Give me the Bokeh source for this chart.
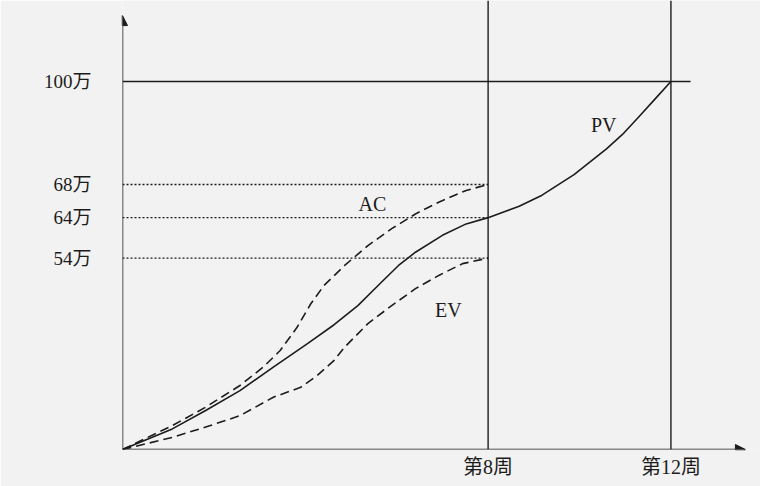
from bokeh.plotting import figure
from bokeh.models import FixedTicker, Arrow, NormalHead, Label
from bokeh.embed import file_html
from bokeh.resources import INLINE

# The original figure is schematic (not to scale): heights below are the drawn heights.
level_labels = ["54万", "64万", "68万", "100万"]
level_heights = [52, 63, 72, 100]
week_ticks = [8, 12]
week_labels = ["第8周", "第12周"]

pv_weeks = [0, 1.09, 1.82, 2.57, 3.30, 4.04, 4.63, 5.15, 5.67, 6.04, 6.41, 7.00, 7.52, 8,
            8.68, 9.18, 9.88, 10.59, 10.94, 11.30, 11.65, 12]
pv_vals = [0, 5.6, 10.6, 16.0, 22.4, 28.7, 33.9, 39.1, 45.5, 50.0, 53.6, 58.2, 61.3, 63,
           66.1, 69.1, 74.7, 81.7, 85.6, 90.4, 95.2, 100]

ac_weeks = [0, 1.09, 1.82, 2.57, 3.08, 3.45, 3.82, 4.12, 4.41, 4.86, 5.37, 5.89, 6.41, 6.92, 7.52, 8]
ac_vals = [0, 6.5, 11.5, 17.4, 22.4, 26.9, 33.2, 39.6, 44.6, 50.0, 55.4, 60.0, 64.0, 67.2, 70.4, 72]

ev_weeks = [0, 1.09, 1.82, 2.57, 3.30, 3.90, 4.26, 4.63, 4.86, 5.37, 5.89, 6.41, 6.92, 7.44, 8]
ev_vals = [0, 3.3, 6.1, 9.2, 14.2, 16.9, 20.1, 24.2, 27.8, 34.2, 39.1, 43.7, 47.3, 50.5, 52]

INK = "#1c1c1c"
BG = "#f2f2f2"
FONT = "Liberation Serif, Noto Sans CJK SC"
X_END = 13.96
Y_END = 122.0

p = figure(width=760, height=486, x_range=(0, X_END), y_range=(0, Y_END),
           output_backend="svg", toolbar_location=None, min_border=0)
p.min_border_left = 122
p.min_border_bottom = 37
p.min_border_right = 0
p.min_border_top = 0
p.background_fill_color = BG
p.border_fill_color = BG
p.outline_line_color = None
p.xgrid.visible = False
p.ygrid.visible = False

# axes (labels only; axis lines are drawn as arrows)
p.xaxis.ticker = FixedTicker(ticks=week_ticks)
p.xaxis.major_label_overrides = dict(zip(week_ticks, week_labels))
p.yaxis.ticker = FixedTicker(ticks=level_heights)
p.yaxis.major_label_overrides = dict(zip(level_heights, level_labels))
for ax in (p.xaxis, p.yaxis):
    ax.axis_line_color = None
    ax.major_tick_line_color = None
    ax.minor_tick_line_color = None
    ax.major_tick_out = 0
    ax.major_tick_in = 0
    ax.major_label_text_font = FONT
    ax.major_label_text_font_size = "19px"
    ax.major_label_text_color = INK
p.xaxis.major_label_text_font_size = "20px"
p.yaxis.major_label_standoff = 31
p.xaxis.major_label_standoff = 6

# dotted level lines to week 8
p.segment(x0=0, y0=level_heights[:3], x1=week_ticks[0], y1=level_heights[:3],
          line_color=INK, line_width=1.3, line_dash="2 2")
# 100万 line
p.segment(x0=0, y0=level_heights[3], x1=12.43, y1=level_heights[3],
          line_color=INK, line_width=1.4)
# vertical week lines
p.segment(x0=week_ticks, y0=0, x1=week_ticks, y1=Y_END, line_color=INK, line_width=1.4)

# curves
p.line(pv_weeks, pv_vals, line_color=INK, line_width=1.6, line_join="round")
p.line(ac_weeks, ac_vals, line_color=INK, line_width=1.6, line_dash="9 5", line_join="round")
p.line(ev_weeks, ev_vals, line_color=INK, line_width=1.6, line_dash="9 5", line_join="round")

# axis arrows
p.add_layout(Arrow(end=NormalHead(size=10, fill_color=INK, line_color=INK),
                   x_start=0, y_start=0, x_end=0, y_end=117.9,
                   line_color=INK, line_width=1.5))
p.add_layout(Arrow(end=NormalHead(size=10, fill_color=INK, line_color=INK),
                   x_start=0, y_start=0, x_end=13.63, y_end=0,
                   line_color=INK, line_width=1.5))

# curve names
for name, xx, yy in (("AC", 5.47, 66.8), ("PV", 10.53, 88.3), ("EV", 7.13, 37.8)):
    p.add_layout(Label(x=xx, y=yy, text=name, text_font=FONT, text_font_size="20px",
                       text_color=INK, text_align="center", text_baseline="middle"))

open("out.html", "w").write(file_html(p, INLINE))
